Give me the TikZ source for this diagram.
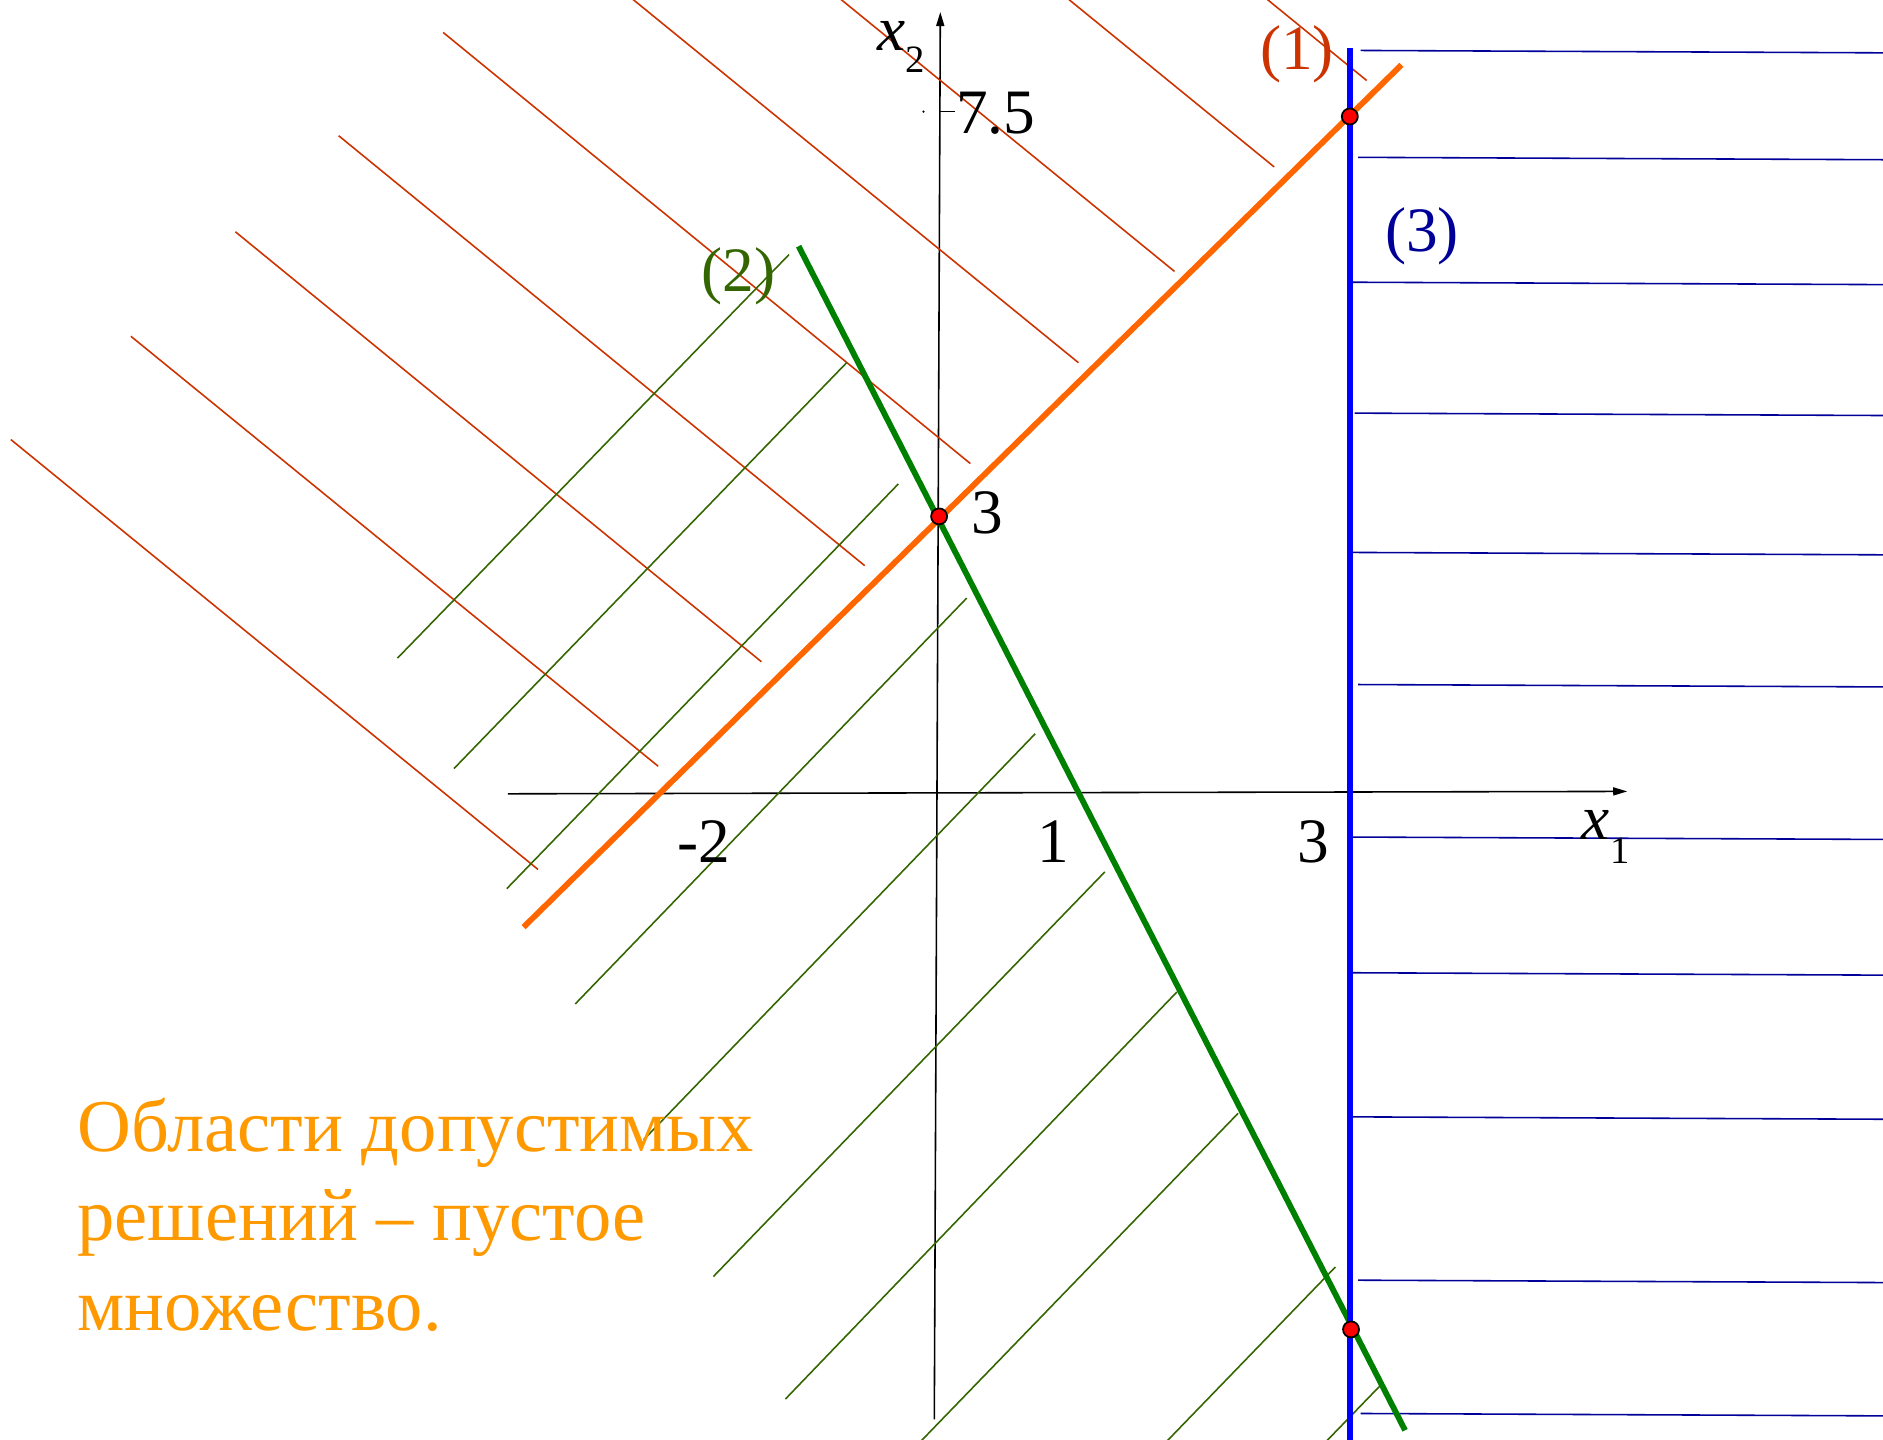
\documentclass[tikz,border=0pt]{standalone}
\usepackage{fontspec}
\setmainfont{Liberation Serif}
\usetikzlibrary{arrows.meta}

\definecolor{hatchred}{RGB}{204,51,0}
\definecolor{lineorange}{RGB}{255,102,0}
\definecolor{linegreen}{RGB}{0,128,0}
\definecolor{hatchgreen}{RGB}{51,102,0}
\definecolor{lineblue}{RGB}{0,0,255}
\definecolor{hatchblue}{RGB}{0,0,153}
\definecolor{noteorange}{RGB}{255,153,0}

\begin{document}
\begin{tikzpicture}[
        x=0.12009mm, y=-0.12009mm,
        axis/.style={draw=black, line width=0.45pt, -{Triangle[length=1.4mm, width=0.8mm]}},
        hatch/.style={line width=0.45pt},
        bound/.style={line width=1.65pt},
        corner/.style={draw=black, fill=red, line width=0.5pt},
        lbl/.style={font=\fontsize{18}{18}\selectfont, inner sep=0pt},
        sublbl/.style={font=\fontsize{11}{11}\selectfont, inner sep=0pt},
        note/.style={font=\fontsize{21.2}{25}\selectfont, text=noteorange, inner sep=0pt, anchor=base west}
    ]
        \useasboundingbox (0,0) rectangle (1568,1199);

        \coordinate (ax_x_start) at (423,661);
        \coordinate (ax_x_end) at (1355,659);
        \coordinate (ax_y_start) at (778,1182);
        \coordinate (ax_y_end) at (783,10);

        \coordinate (one_a) at (436,772);
        \coordinate (one_b) at (1167,54);
        \coordinate (two_a) at (665,205);
        \coordinate (two_b) at (1170,1191);
        \coordinate (three_a) at (1124,40);
        \coordinate (three_b) at (1124,1210);

        \coordinate (pt_top) at (1124,97);
        \coordinate (pt_mid) at (782,430);
        \coordinate (pt_low) at (1125,1107);

        \draw[axis] (ax_x_start) -- (ax_x_end);
        \draw[axis] (ax_y_start) -- (ax_y_end);
        \draw[line width=0.45pt] (783,93) -- (795,93);
        \fill (769,93) circle (0.12mm);

        \begin{scope}
            \clip (0,0) rectangle (1568,1199);
            \foreach \xa/\ya/\xb/\yb in {9/366/448/724, 109/280/548/638, 196/193/634/551, 282/113/720/471, 369/27/808/386, 459/-56/898/302, 539/-132/978/226, 622/-219/1061/139, 699/-291/1138/67}
                \draw[hatch, hatchred] (\xa,\ya) -- (\xb,\yb);
            \foreach \xa/\ya/\xb/\yb in {331/548/657/212, 378/640/705/302, 422/740/748/403, 479/836/805/498, 536/949/862/611, 594/1063/920/726, 654/1165/980/826, 705/1264/1031/927, 786/1392/1112/1055, 826/1488/1152/1151}
                \draw[hatch, hatchgreen] (\xa,\ya) -- (\xb,\yb);
            \foreach \xa/\ya in {1133/42, 1131/131, 1126/235, 1128/344, 1126/460, 1131/570, 1126/697, 1126/810, 1126/930, 1131/1066, 1133/1177}
                \draw[hatch, hatchblue] (\xa,\ya) -- (1570,{\ya+2});

            \draw[bound, lineorange] (one_a) -- (one_b);
            \draw[bound, linegreen] (two_a) -- (two_b);
            \draw[bound, lineblue] (three_a) -- (three_b);
        \end{scope}

        \draw[corner] (pt_top) circle (0.8mm);
        \draw[corner] (pt_mid) circle (0.8mm);
        \draw[corner] (pt_low) circle (0.8mm);

        \node[lbl] (tick_val) at (829,94) {7.5};
        \node[lbl] (x_neg) at (586,701) {-2};
        \node[lbl] (x_one) at (877,701) {1};
        \node[lbl] (x_three) at (1094,701) {3};
        \node[lbl] (y_three) at (822,427) {3};
        \node[lbl] (ax_x) at (1329,687) {\itshape x};
        \node[sublbl] (ax_x_sub) at (1349,708) {1};
        \node[lbl] (ax_y) at (742,30) {\itshape x};
        \node[sublbl] (ax_y_sub) at (762,50) {2};

        \node[lbl, text=hatchred] (tag_one) at (1080,45) {(1)};
        \node[lbl, text=hatchgreen] (tag_two) at (615,230) {(2)};
        \node[lbl, text=hatchblue] (tag_three) at (1184,197) {(3)};

        \node[note] (note_a) at (64,959) {Области допустимых};
        \node[note] (note_b) at (64,1033) {решений – пустое};
        \node[note] (note_c) at (64,1108) {множество.};

    \end{tikzpicture}
\end{document}
